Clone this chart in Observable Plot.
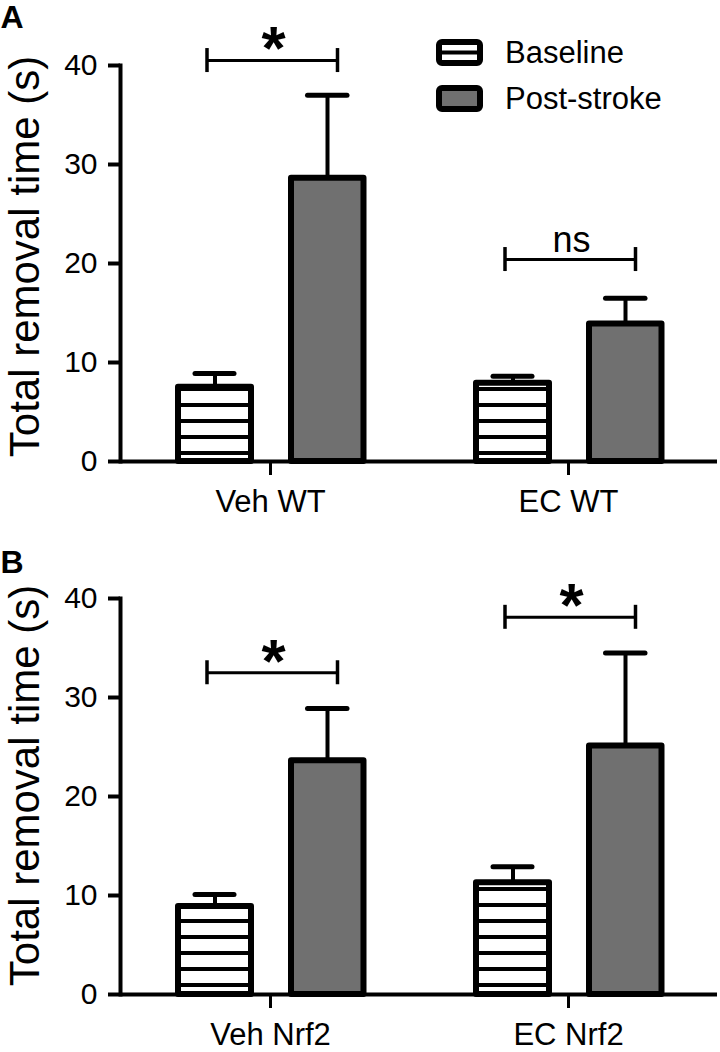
<!DOCTYPE html>
<html><head><meta charset="utf-8">
<script src="https://cdn.jsdelivr.net/npm/d3@7"></script>
<script src="https://cdn.jsdelivr.net/npm/@observablehq/plot@0.6"></script>
<style>
body{margin:0;background:#fff;font-family:"Liberation Sans",Arial,Helvetica,sans-serif;}
#wrap{position:relative;width:720px;height:1052px;overflow:hidden;background:#fff}
#wrap svg.plot{display:block}
#legend{position:absolute;left:0;top:0;pointer-events:none}
</style></head><body>
<svg width="0" height="0" style="position:absolute">
<defs>
<pattern id="hatchA" patternUnits="userSpaceOnUse" x="0" y="3" width="16" height="16"><rect width="16" height="16" fill="#fff"/><rect width="16" height="4" fill="#000"/></pattern>
<pattern id="hatchB" patternUnits="userSpaceOnUse" x="0" y="9" width="16" height="16"><rect width="16" height="16" fill="#fff"/><rect width="16" height="4" fill="#000"/></pattern>
</defs></svg>
<div id="wrap"></div>
<script>
// ---- data ----
const series = ["Baseline", "Post-stroke"];
const yTicks = [0, 10, 20, 30, 40];
const yTitle = "Total removal time (s)";

const groupsA = ["Veh WT", "EC WT"];
const baselineA = [7.5, 7.9];
const baselineErrA = [1.4, 0.7];
const postA = [28.6, 13.9];
const postErrA = [8.4, 2.6];
const sigA = ["*", "ns"];
const sigLevelA = [40.5, 20.4];

const groupsB = ["Veh Nrf2", "EC Nrf2"];
const baselineB = [8.9, 11.3];
const baselineErrB = [1.2, 1.6];
const postB = [23.6, 25.1];
const postErrB = [5.3, 9.4];
const sigB = ["*", "*"];
const sigLevelB = [32.5, 38.1];

const fontFamily = '"Liberation Sans", Arial, Helvetica, sans-serif';

function panel(o) {
  const base = o.groups.map((g, i) => ({group: g, value: o.base[i], hi: o.base[i] + o.baseErr[i]}));
  const post = o.groups.map((g, i) => ({group: g, value: o.post[i], hi: o.post[i] + o.postErr[i]}));
  const sig = o.groups.map((g, i) => ({group: g, label: o.sig[i], level: o.sigLevel[i]}));
  return Plot.plot({
    width: 720, height: 526,
    marginLeft: 120, marginRight: 3, marginTop: o.mt, marginBottom: o.mb,
    style: {fontFamily, fontSize: "30px", color: "#000", background: "transparent", overflow: "visible"},
    x: {type: "band", domain: o.groups, padding: 0, label: null},
    y: {domain: [0, 40], label: null},
    marks: [
      Plot.ruleX(base, {x: "group", y1: "value", y2: "hi", dx: -55.5, strokeWidth: 4}),
      Plot.ruleX(post, {x: "group", y1: "value", y2: "hi", dx: 57, strokeWidth: 4}),
      Plot.tickY(base, {x: "group", y: "hi", insetLeft: 74, insetRight: 185, strokeWidth: 5, strokeLinecap: "round"}),
      Plot.tickY(post, {x: "group", y: "hi", insetLeft: 186.5, insetRight: 72, strokeWidth: 5, strokeLinecap: "round"}),
      Plot.barY(base, {x: "group", y: "value", insetLeft: 57, insetRight: 168, fill: `url(#${o.hatch})`, stroke: "#000", strokeWidth: 6, strokeLinejoin: "round"}),
      Plot.barY(post, {x: "group", y: "value", insetLeft: 170, insetRight: 55.5, fill: "#707070", stroke: "#000", strokeWidth: 6, strokeLinejoin: "round"}),
      Plot.frame({anchor: "left", strokeWidth: 4}),
      Plot.ruleY([0], {strokeWidth: 4}),
      Plot.axisY({ticks: yTicks, tickSize: 12, tickPadding: 11, strokeWidth: 4, fontSize: 30, label: null}),
      Plot.axisX({tickSize: 14, tickPadding: o.xPad, strokeWidth: 3, fontSize: 31, label: null}),
      Plot.tickY(sig, {x: "group", y: "level", insetLeft: 86, insetRight: 82, strokeWidth: 3}),
      Plot.ruleX(sig, {x: "group", y1: "level", y2: "level", dx: -63.5, insetTop: -12, insetBottom: -12, strokeWidth: 3.5}),
      Plot.ruleX(sig, {x: "group", y1: "level", y2: "level", dx: 67, insetTop: -12, insetBottom: -12, strokeWidth: 3.5}),
      Plot.text(sig.filter(d => d.label === "*"), {x: "group", y: "level", text: "label", dx: 3, dy: -11, lineAnchor: "middle", fontSize: 62, fontWeight: "bold"}),
      Plot.text(sig.filter(d => d.label !== "*"), {x: "group", y: "level", text: "label", dx: 3, dy: -8, lineAnchor: "bottom", fontSize: 36}),
      Plot.text([yTitle], {text: d => d, frameAnchor: "left", rotate: -90, dx: -111, dy: o.titleDy, lineAnchor: "top", textAnchor: "middle", fontSize: 42}),
      Plot.text([o.panelLabel], {text: d => d, frameAnchor: "top-left", dx: -120, dy: o.labelDy, lineAnchor: "top", textAnchor: "start", fontSize: 32, fontWeight: "bold"})
    ]
  });
}

const wrap = document.getElementById("wrap");
wrap.appendChild(panel({groups: groupsA, base: baselineA, baseErr: baselineErrA, post: postA, postErr: postErrA,
  sig: sigA, sigLevel: sigLevelA, hatch: "hatchA", mt: 65, mb: 65, xPad: 14, titleDy: -7, labelDy: -60, panelLabel: "A"}));
wrap.appendChild(panel({groups: groupsB, base: baselineB, baseErr: baselineErrB, post: postB, postErr: postErrB,
  sig: sigB, sigLevel: sigLevelB, hatch: "hatchB", mt: 72, mb: 58, xPad: 14, titleDy: -11, labelDy: -48, panelLabel: "B"}));

// ---- legend (inside panel A, top right) ----
const leg = d3.select(wrap).append("svg").attr("id", "legend").attr("width", 720).attr("height", 130)
  .style("font-family", fontFamily);
const items = leg.selectAll("g").data(series).join("g")
  .attr("transform", (d, i) => `translate(0,${i * 46})`);
items.append("rect").attr("x", 439).attr("y", 42).attr("width", 41).attr("height", 21).attr("rx", 3)
  .attr("fill", (d, i) => i === 0 ? "#fff" : "#707070").attr("stroke", "#000").attr("stroke-width", 6);
items.filter((d, i) => i === 0).append("line").attr("x1", 439).attr("x2", 480).attr("y1", 52.5).attr("y2", 52.5)
  .attr("stroke", "#000").attr("stroke-width", 4);
items.append("text").attr("x", 505).attr("y", 63).attr("font-size", 31).attr("fill", "#000").text(d => d);
</script>
</body></html>
